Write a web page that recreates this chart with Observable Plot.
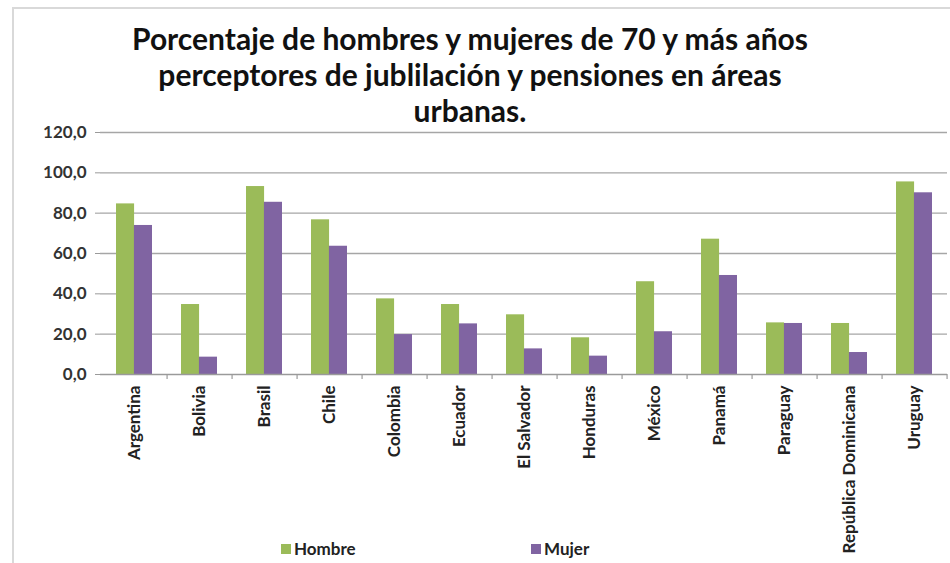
<!DOCTYPE html>
<html>
<head>
<meta charset="utf-8">
<script src="https://cdn.jsdelivr.net/npm/d3@7"></script>
<script src="https://cdn.jsdelivr.net/npm/@observablehq/plot@0.6"></script>
<style>
  html, body { margin: 0; padding: 0; background: #fff; }
  #wrap { position: relative; width: 950px; height: 563px; overflow: hidden; font-family: Lato, "Open Sans", sans-serif; }
  #frame { position: absolute; left: 12px; top: 7px; width: 960px; height: 600px; border: 2px solid #d9d9d9; box-sizing: border-box; }
  #title { position: absolute; left: 0; top: 20px; width: 940px; text-align: center; font-size: 30px; font-weight: 700; line-height: 36px; color: #111; }
  #chart { position: absolute; left: 0; top: 0; }
  .leg { position: absolute; top: 538px; font-size: 17px; font-weight: 700; color: #222; display: flex; align-items: center; }
  .leg span.sw { display: inline-block; width: 10px; height: 10px; margin-right: 3px; }
</style>
</head>
<body>
<div id="wrap">
  <div id="frame"></div>
  <div id="chart"></div>
  <div id="title">Porcentaje de hombres y mujeres de 70 y más años<br>perceptores de jublilación y pensiones en áreas<br>urbanas.</div>
  <div class="leg" id="legH" style="left:281px"><span class="sw" style="background:#9BBB59"></span>Hombre</div>
  <div class="leg" id="legM" style="left:531px"><span class="sw" style="background:#8064A2"></span>Mujer</div>
</div>
<script>
const countries = ["Argentina","Bolivia","Brasil","Chile","Colombia","Ecuador","El Salvador","Honduras","México","Panamá","Paraguay","República Dominicana","Uruguay"];
const hombre = [84.6, 34.7, 93.2, 76.7, 37.5, 34.7, 29.6, 18.2, 46.0, 67.1, 25.6, 25.3, 95.5];
const mujer  = [73.9, 8.6, 85.4, 63.6, 19.8, 25.1, 12.7, 9.1, 21.2, 49.1, 25.3, 10.9, 90.1];
const yTicks = [0, 20, 40, 60, 80, 100, 120];
const seriesNames = ["Hombre", "Mujer"];
const seriesColors = ["#9BBB59", "#8064A2"];

const dataH = countries.map((c, i) => ({country: c, sex: "Hombre", value: hombre[i]}));
const dataM = countries.map((c, i) => ({country: c, sex: "Mujer", value: mujer[i]}));

const W = 950, H = 563, mL = 100, mR = 3, mT = 132, mB = 189;
const pInner = 0.45, pOuter = 0.225;
const step = (W - mL - mR) / (countries.length - pInner + 2 * pOuter);
const bw = step * (1 - pInner);

const chart = Plot.plot({
  width: W, height: H,
  marginLeft: mL, marginRight: mR, marginTop: mT, marginBottom: mB,
  style: {fontFamily: "Lato, 'Open Sans', sans-serif", background: "transparent"},
  x: {domain: countries, paddingInner: pInner, paddingOuter: pOuter, label: null},
  y: {domain: [0, 120], ticks: yTicks, label: null},
  color: {domain: seriesNames, range: seriesColors},
  marks: [
    Plot.ruleY(yTicks.filter(d => d > 0), {stroke: "#a6a6a6", strokeWidth: 1.4}),
    Plot.barY(dataH, {x: "country", y: "value", fill: "sex", insetRight: bw / 2}),
    Plot.barY(dataM, {x: "country", y: "value", fill: "sex", insetLeft: bw / 2}),
    Plot.ruleY([0], {stroke: "#9a9a9a", strokeWidth: 1.4}),
    Plot.ruleX([0], {frameAnchor: "left", y1: 0, y2: 120, stroke: "#9a9a9a", strokeWidth: 1.4}),
    Plot.ruleX(countries, {x: d => d, dx: step / 2, y1: 0, y2: -2.5, stroke: "#9a9a9a", strokeWidth: 1.2}),
    Plot.axisY({ticks: yTicks, tickSize: 5, tickPadding: 9, stroke: "#9a9a9a", fill: "#333", fontSize: 17, fontWeight: 700,
      tickFormat: d => d.toFixed(1).replace(".", ",")}),
    Plot.axisX({tickSize: 0, tickPadding: 11, tickRotate: -90, fill: "#222", fontSize: 17, fontWeight: 700, label: null})
  ]
});
document.getElementById("chart").appendChild(chart);
</script>
</body>
</html>
